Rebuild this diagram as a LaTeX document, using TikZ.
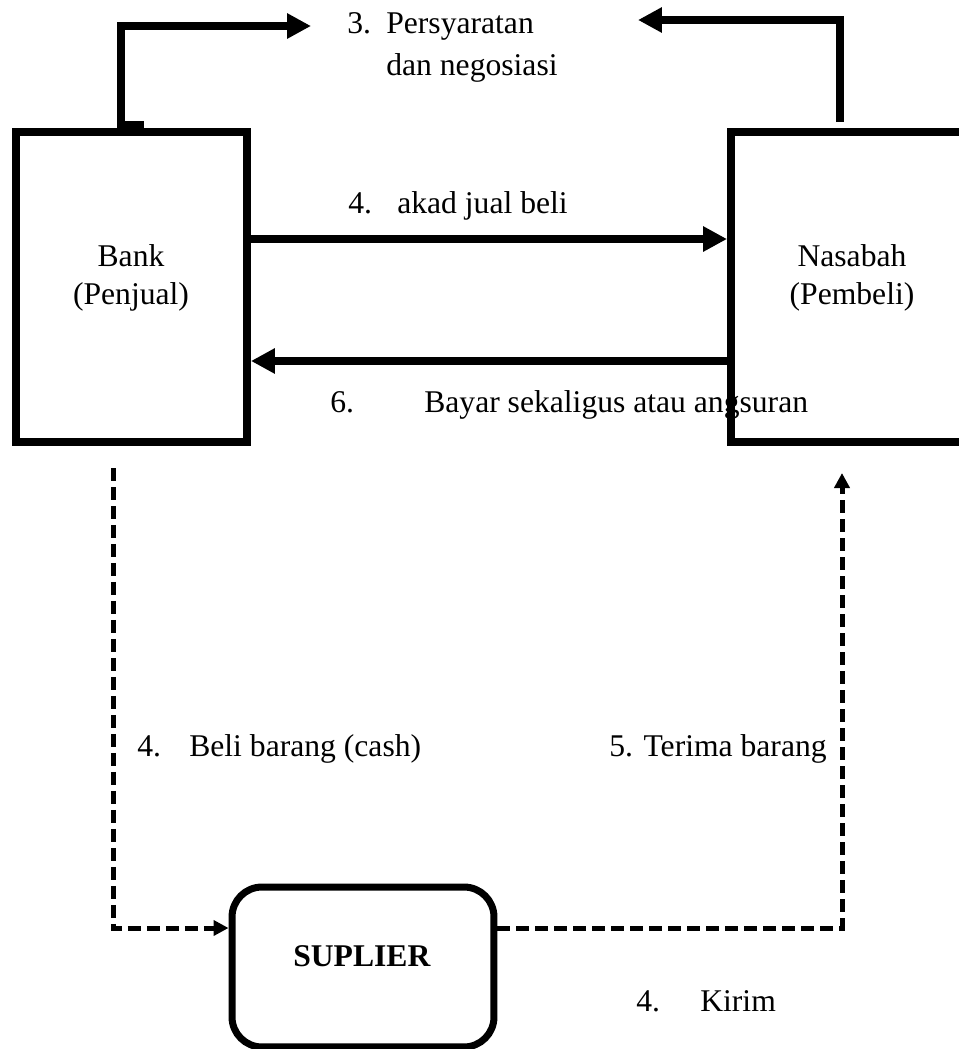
\documentclass[tikz,border=0pt]{standalone}
\usepackage{fontspec}
\setmainfont{Liberation Serif}
\usetikzlibrary{arrows.meta}

\begin{document}
\begin{tikzpicture}[x=0.02cm, y=-0.02cm,
        every node/.style={font=\fontsize{18}{22}\selectfont},
        party/.style={draw, line width=0.16cm, minimum width=4.62cm, minimum height=6.2cm, inner sep=0pt},
        supbox/.style={draw, line width=0.14cm, rounded corners=0.6cm, minimum width=5.24cm, minimum height=3.2cm, inner sep=0pt},
        txt/.style={anchor=base west, inner sep=0pt},
        solidarrow/.style={line width=0.16cm, -{Triangle[length=0.48cm, width=0.48cm]}},
        dasharrow/.style={line width=0.1cm, dash pattern=on 0.26cm off 0.12cm, -{Triangle[length=0.3cm, width=0.3cm]}}
    ]
        \useasboundingbox (0,0) rectangle (959,1049);
        \clip (0,0) rectangle (959,1049);

        \coordinate (p3l) at (121, 26);
        \coordinate (p3lend) at (311, 26);
        \coordinate (p3r) at (840, 20);
        \coordinate (p3rend) at (638, 20);
        \coordinate (dl) at (113, 928);
        \coordinate (dlstart) at (113, 468);
        \coordinate (dr) at (842, 928);
        \coordinate (drend) at (842, 473);

        \node[txt] (t3) at (347, 33) {\makebox[0.78cm][l]{3.}Persyaratan};
        \node[txt] (t3b) at (386, 75) {dan negosiasi};
        \node[txt] (t4a) at (348, 213) {\makebox[0.98cm][l]{4.}akad jual beli};
        \node[txt] (t6) at (330, 412) {\makebox[1.88cm][l]{6.}Bayar sekaligus atau angsuran};
        \node[txt] (t4b) at (137, 756) {\makebox[1.04cm][l]{4.}Beli barang (cash)};
        \node[txt] (t5) at (609, 756) {5. Terima barang};
        \node[txt] (t4c) at (636, 1011) {\makebox[1.28cm][l]{4.}Kirim};

        \node[party] (bank) at (131.5, 287) {};
        \node[party, minimum width=6cm] (nasabah) at (881, 287) {};
        \node[supbox] (suplier) at (363, 967) {};

        \node[align=center] (banklbl) at (131, 278) {Bank\\(Penjual)};
        \node[align=center] (nasabahlbl) at (852, 278) {Nasabah\\(Pembeli)};
        \node (suplierlbl) at (362, 956) {\textbf{SUPLIER}};

        \fill (117, 121) rectangle (144, 133);
        \draw[solidarrow] (p3l |- bank.north) -- (p3l) -- (p3lend);
        \draw[solidarrow] (p3r |- 0, 122) -- (p3r) -- (p3rend);
        \draw[solidarrow] ([yshift=0.96cm]bank.east) -- ([yshift=0.96cm]bank.east -| nasabah.west);
        \draw[solidarrow] ([yshift=-1.48cm]nasabah.west) -- ([yshift=-1.48cm]nasabah.west -| bank.east);
        \draw[dasharrow] (dlstart) -- (dl) -- (dl -| suplier.west);
        \draw[dasharrow] (dr -| suplier.east) -- (dr) -- (drend);
\end{tikzpicture}
\end{document}
